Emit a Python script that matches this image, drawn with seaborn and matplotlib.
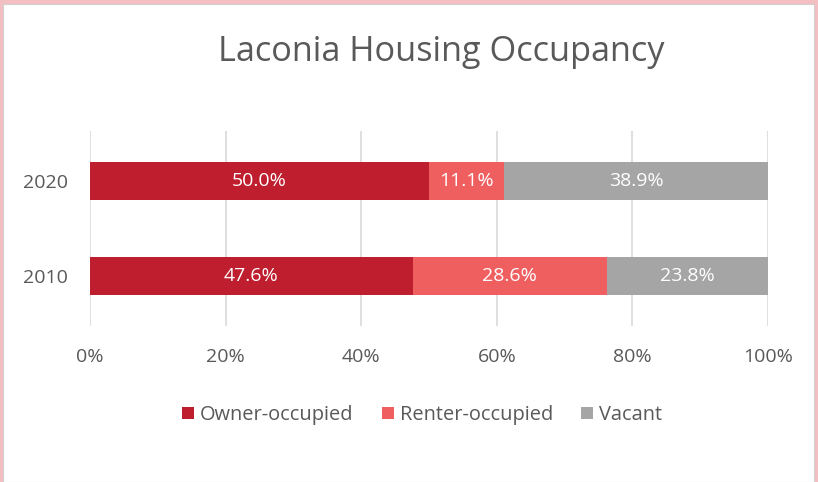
import matplotlib
matplotlib.use("Agg")
import matplotlib.pyplot as plt
from matplotlib.patches import Patch, Rectangle
import seaborn as sns
import pandas as pd
import numpy as np

years = ["2020", "2010"]
series = ["Owner-occupied", "Renter-occupied", "Vacant"]
owner = [50.0, 47.6]
renter = [11.1, 28.6]
vacant = [38.9, 23.8]
colors = ["#BE1E2D", "#EF5F60", "#A5A5A5"]
xticks = [0, 20, 40, 60, 80, 100]

sns.set_theme(style="white")
plt.rcParams["font.family"] = ["Open Sans", "DejaVu Sans"]
text_color = "#595959"

fig = plt.figure(figsize=(8.18, 4.82), dpi=100)
fig.patch.set_facecolor("#F4BFC3")
bg = Rectangle((3/818, 0), 811/818, 1 - 4/482, transform=fig.transFigure,
               facecolor="white", edgecolor="#D0D0D0", linewidth=0.8, zorder=-5)
fig.patches.append(bg)

ax = fig.add_axes([90/818, 1 - 326/482, 678/818, 195/482])
ax.set_facecolor("none")
ax.set_zorder(2)

vals = [owner, renter, vacant]
cum = np.cumsum(np.array(vals), axis=0)
df = pd.DataFrame({"year": years})
# draw cumulative bars from largest to smallest so each segment shows
for i in reversed(range(3)):
    df["v"] = cum[i]
    sns.barplot(data=df, x="v", y="year", order=years, orient="h", color=colors[i],
                width=0.4, saturation=1, ax=ax, zorder=3, edgecolor="none")

# data labels
for i in range(3):
    left = cum[i] - np.array(vals[i])
    for j, y in enumerate(years):
        ax.text(left[j] + vals[i][j] / 2, j, f"{vals[i][j]:.1f}%", ha="center", va="center",
                color="white", fontsize=14, zorder=5)

ax.set_xlim(0, 100)
ax.set_ylim(1.52, -0.52)
ax.set_xticks(xticks)
ax.set_xticklabels([f"{t}%" for t in xticks])
ax.xaxis.grid(True, color="#D9D9D9", linewidth=1.2, zorder=0)
ax.set_axisbelow(True)
for s in ax.spines.values():
    s.set_visible(False)
ax.tick_params(axis="x", length=0, pad=15.5, labelsize=14, labelcolor=text_color)
ax.tick_params(axis="y", length=0, pad=16, labelsize=14, labelcolor=text_color)
ax.set_xlabel("")
ax.set_ylabel("")

fig.text(441/818, 1 - 52/482, "Laconia Housing Occupancy", ha="center", va="center",
         fontsize=24.7, color=text_color)

handles = [Patch(facecolor=c, edgecolor="none", label=s) for c, s in zip(colors, series)]
fig.legend(handles=handles, loc="center", bbox_to_anchor=(422/818, 1 - 415/482), ncol=3,
           frameon=False, fontsize=14.4, handlelength=0.6, handleheight=0.6,
           handletextpad=0.3, columnspacing=1.4, labelcolor=text_color)

fig.savefig("out.png", dpi=100, facecolor=fig.get_facecolor())
